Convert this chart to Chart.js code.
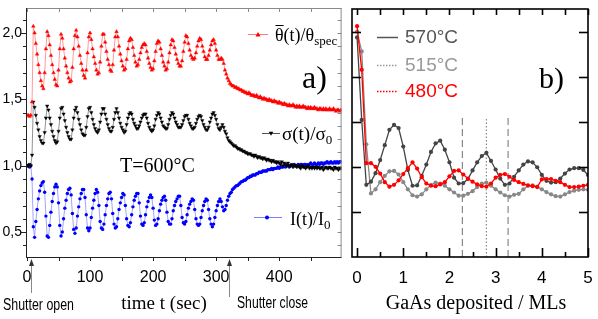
<!DOCTYPE html>
<html>
<head>
<meta charset="utf-8">
<script src="https://cdn.jsdelivr.net/npm/chart.js@4"></script>
<style>
  html, body { margin: 0; padding: 0; background: #fff; }
  #wrap { position: relative; width: 598px; height: 319px; }
  #chartA { position: absolute; left: 0; top: 0; }
  #chartB { position: absolute; left: 346px; top: 0; }
</style>
</head>
<body>
<div id="wrap">
  <canvas id="chartA" width="346" height="319"></canvas>
  <canvas id="chartB" width="252" height="319"></canvas>
</div>
<script>
// ---- panel a : time series, sampled every 2 s from t = 0 ----
const T_START = 0, T_STEP = 2;
const thetaRatio = [
  1.38,1.38,1.37,1.38,1.48,2.05,2.00,1.92,1.84,1.76,
  1.70,1.64,1.60,1.58,1.70,1.88,2.01,1.98,1.91,1.83,
  1.76,1.70,1.65,1.61,1.60,1.72,1.88,1.99,1.96,1.88,
  1.81,1.75,1.70,1.66,1.63,1.64,1.74,1.88,1.98,2.02,
  1.97,1.90,1.83,1.77,1.72,1.68,1.66,1.72,1.85,1.97,
  2.00,1.95,1.88,1.82,1.77,1.72,1.69,1.70,1.78,1.90,
  1.99,1.99,1.93,1.86,1.80,1.76,1.72,1.71,1.76,1.87,
  1.97,2.01,1.97,1.90,1.84,1.79,1.75,1.72,1.73,1.80,
  1.88,1.94,1.96,1.95,1.89,1.83,1.78,1.75,1.76,1.80,
  1.85,1.89,1.91,1.92,1.91,1.86,1.81,1.77,1.74,1.72,
  1.73,1.79,1.86,1.92,1.94,1.93,1.88,1.83,1.78,1.75,
  1.72,1.73,1.78,1.85,1.91,1.95,1.94,1.89,1.84,1.80,
  1.77,1.75,1.75,1.79,1.86,1.93,1.98,1.97,1.92,1.87,
  1.83,1.81,1.80,1.81,1.85,1.90,1.94,1.96,1.95,1.90,
  1.86,1.82,1.80,1.80,1.83,1.87,1.91,1.94,1.95,1.92,
  1.87,1.83,1.80,1.80,1.81,1.80,1.77,1.72,1.69,1.66,
  1.64,1.62,1.61,1.60,1.60,1.59,1.59,1.58,1.58,1.57,
  1.57,1.56,1.56,1.55,1.55,1.54,1.55,1.54,1.53,1.53,
  1.53,1.52,1.53,1.52,1.51,1.52,1.51,1.50,1.51,1.50,
  1.50,1.49,1.50,1.49,1.49,1.48,1.49,1.48,1.48,1.47,
  1.48,1.47,1.47,1.46,1.47,1.46,1.46,1.45,1.46,1.45,
  1.45,1.46,1.45,1.44,1.45,1.44,1.45,1.44,1.44,1.45,
  1.44,1.44,1.43,1.44,1.43,1.44,1.43,1.43,1.44,1.43,
  1.43,1.42,1.43,1.43,1.42,1.43,1.42,1.43,1.42,1.42,
  1.43,1.42,1.42,1.43,1.42,1.41,1.42,1.42,1.41,1.42
];
const sigmaRatio = [
  1.00,1.00,1.01,1.00,1.08,1.48,1.44,1.38,1.32,1.27,
  1.22,1.19,1.17,1.17,1.25,1.36,1.45,1.42,1.36,1.31,
  1.26,1.22,1.19,1.17,1.18,1.26,1.36,1.43,1.44,1.39,
  1.34,1.29,1.25,1.22,1.20,1.20,1.27,1.36,1.42,1.44,
  1.40,1.35,1.31,1.27,1.24,1.23,1.23,1.29,1.37,1.43,
  1.44,1.40,1.35,1.31,1.28,1.26,1.25,1.27,1.33,1.39,
  1.43,1.43,1.39,1.35,1.31,1.28,1.26,1.26,1.29,1.35,
  1.40,1.43,1.40,1.36,1.32,1.29,1.27,1.25,1.26,1.31,
  1.36,1.39,1.40,1.39,1.35,1.32,1.30,1.28,1.28,1.30,
  1.33,1.36,1.38,1.39,1.39,1.36,1.32,1.29,1.27,1.26,
  1.27,1.30,1.35,1.38,1.40,1.39,1.36,1.33,1.30,1.29,
  1.28,1.28,1.31,1.35,1.38,1.40,1.39,1.36,1.33,1.31,
  1.29,1.29,1.29,1.31,1.34,1.37,1.38,1.38,1.35,1.32,
  1.30,1.28,1.28,1.29,1.32,1.35,1.37,1.38,1.37,1.34,
  1.31,1.29,1.27,1.27,1.29,1.33,1.36,1.39,1.40,1.38,
  1.35,1.31,1.28,1.27,1.29,1.31,1.29,1.26,1.24,1.21,
  1.19,1.18,1.17,1.16,1.15,1.15,1.14,1.13,1.13,1.12,
  1.12,1.11,1.11,1.10,1.10,1.09,1.09,1.09,1.08,1.08,
  1.07,1.08,1.07,1.06,1.07,1.06,1.06,1.05,1.06,1.05,
  1.04,1.05,1.04,1.04,1.03,1.04,1.03,1.03,1.02,1.03,
  1.02,1.01,1.03,1.00,1.02,1.01,1.00,1.02,1.00,1.00,
  1.01,0.99,1.00,1.00,0.99,1.00,0.99,0.98,1.00,0.99,
  0.99,0.98,0.99,1.00,0.98,0.99,0.98,0.99,0.98,0.99,
  0.98,0.99,0.98,0.98,0.99,0.97,0.98,0.99,0.98,0.98,
  0.99,0.98,0.98,0.97,0.99,0.98,0.98,0.97,0.98,0.98
];
const intensityRatio = [
  1.00,1.00,0.99,1.00,0.90,0.54,0.46,0.58,0.67,0.75,
  0.81,0.85,0.87,0.88,0.80,0.62,0.47,0.46,0.55,0.65,
  0.73,0.79,0.84,0.86,0.84,0.72,0.55,0.47,0.50,0.60,
  0.68,0.74,0.79,0.82,0.83,0.78,0.64,0.52,0.49,0.53,
  0.62,0.69,0.75,0.79,0.82,0.82,0.76,0.63,0.53,0.51,
  0.53,0.61,0.68,0.74,0.79,0.82,0.80,0.70,0.58,0.53,
  0.52,0.56,0.63,0.70,0.75,0.79,0.80,0.75,0.64,0.56,
  0.53,0.54,0.60,0.67,0.72,0.76,0.79,0.78,0.70,0.60,
  0.55,0.54,0.57,0.63,0.69,0.74,0.77,0.79,0.79,0.72,
  0.62,0.56,0.55,0.57,0.63,0.69,0.73,0.76,0.78,0.76,
  0.68,0.59,0.55,0.56,0.60,0.66,0.71,0.74,0.76,0.77,
  0.74,0.65,0.58,0.56,0.56,0.60,0.66,0.70,0.73,0.75,
  0.77,0.77,0.70,0.61,0.57,0.56,0.58,0.63,0.68,0.71,
  0.73,0.75,0.74,0.67,0.60,0.56,0.55,0.56,0.61,0.66,
  0.70,0.73,0.75,0.74,0.67,0.60,0.56,0.54,0.56,0.61,
  0.66,0.70,0.73,0.75,0.73,0.69,0.66,0.67,0.70,0.74,
  0.77,0.79,0.80,0.82,0.83,0.84,0.85,0.85,0.86,0.87,
  0.88,0.88,0.89,0.89,0.90,0.91,0.91,0.92,0.92,0.93,
  0.93,0.93,0.94,0.94,0.95,0.95,0.95,0.96,0.96,0.96,
  0.96,0.97,0.97,0.97,0.98,0.97,0.98,0.98,0.98,0.99,
  0.98,0.99,0.99,0.99,1.00,0.99,1.00,1.00,0.99,1.00,
  1.00,1.00,1.01,1.00,1.00,1.01,1.00,1.01,1.01,1.00,
  1.01,1.01,1.00,1.01,1.01,1.02,1.01,1.01,1.02,1.01,
  1.01,1.02,1.01,1.02,1.02,1.01,1.02,1.02,1.03,1.02,
  1.02,1.03,1.02,1.02,1.03,1.02,1.03,1.02,1.03,1.03
];
const timeTicks = [0, 100, 200, 300, 400];
const ratioTicks = [0.5, 1.0, 1.5, 2.0];
const shutterTimes = [6, 321];
const shutterLabels = ['Shutter open', 'Shutter close'];

// ---- panel b : deposited MLs, sampled every 0.1 ML from 0 ----
const ML_START = 0, ML_STEP = 0.1;
const temps = ['570°C', '515°C', '480°C'];
const series570 = [
  4.87,3.04,1.60,1.67,1.86,2.15,2.48,2.82,2.93,2.86,
  2.45,1.93,1.58,1.59,1.80,2.05,2.33,2.52,2.58,2.38,
  2.10,1.76,1.63,1.64,1.73,1.92,2.10,2.24,2.31,2.13,
  1.94,1.74,1.60,1.63,1.78,1.92,2.05,2.12,2.10,1.99,
  1.82,1.69,1.65,1.66,1.74,1.85,1.94,1.97,1.97,1.93,
  1.82
];
const series515 = [
  5.00,4.56,2.50,1.41,1.50,1.66,1.80,1.90,1.91,1.83,
  1.66,1.50,1.37,1.34,1.39,1.50,1.60,1.65,1.63,1.58,
  1.50,1.43,1.36,1.36,1.40,1.46,1.55,1.63,1.65,1.58,
  1.50,1.43,1.37,1.34,1.38,1.40,1.50,1.58,1.59,1.56,
  1.50,1.44,1.39,1.35,1.34,1.39,1.44,1.47,1.49,1.50,
  1.49
];
const series480 = [
  5.12,4.15,2.08,2.08,2.00,1.85,1.66,1.56,1.60,1.70,
  1.84,1.97,2.10,1.96,1.77,1.63,1.58,1.57,1.61,1.66,
  1.79,1.91,1.92,1.83,1.74,1.67,1.61,1.57,1.56,1.63,
  1.76,1.82,1.84,1.78,1.71,1.66,1.62,1.59,1.57,1.55,
  1.72,1.73,1.73,1.69,1.66,1.60,1.55,1.55,1.56,1.58,
  1.60
];
const mlTicks = [0, 1, 2, 3, 4, 5];
const guideML = [2.28, 2.80, 3.27];
const guideTop = 3.1;

const SERIF = '"Liberation Serif", "Times New Roman", serif';
const SANS = '"Liberation Sans", Arial, sans-serif';
Chart.defaults.font.family = SANS;
Chart.defaults.color = '#000';

const toPoints = (vals, start, step) => vals.map((v, i) => ({ x: start + i * step, y: v }));

function seg(ctx, x1, y1, x2, y2) {
  ctx.beginPath(); ctx.moveTo(x1, y1); ctx.lineTo(x2, y2); ctx.stroke();
}
function fitText(ctx, text, x, y, font, width) {
  ctx.save();
  ctx.font = font;
  const w = ctx.measureText(text).width;
  ctx.translate(x, y);
  ctx.scale(width / w, 1);
  ctx.fillText(text, 0, 0);
  ctx.restore();
}
function subText(ctx, main, sub, x, y, size, subSize) {
  ctx.font = size + 'px ' + SERIF;
  ctx.fillText(main, x, y);
  const w = ctx.measureText(main).width;
  ctx.font = subSize + 'px ' + SERIF;
  ctx.fillText(sub, x + w, y + 4);
}
function marker(ctx, kind, x, y, r) {
  ctx.beginPath();
  if (kind === 'up') { ctx.moveTo(x, y - r); ctx.lineTo(x - r, y + r * 0.8); ctx.lineTo(x + r, y + r * 0.8); }
  else if (kind === 'down') { ctx.moveTo(x, y + r); ctx.lineTo(x - r, y - r * 0.8); ctx.lineTo(x + r, y - r * 0.8); }
  else { ctx.arc(x, y, r, 0, Math.PI * 2); }
  ctx.closePath(); ctx.fill();
}
// keep the plot area where the axes are fitted, whatever the edge labels need
function fixBox(size) {
  return s => {
    if (s.isHorizontal()) s.height = size; else s.width = size;
    s.paddingLeft = 0; s.paddingRight = 0; s.paddingTop = 0; s.paddingBottom = 0;
  };
}

const panelA = {
  id: 'panelA',
  afterDraw(chart) {
    const { ctx, chartArea: a, scales: { x, y } } = chart;
    ctx.save();
    ctx.lineWidth = 1;
    // frame
    ctx.strokeStyle = '#8a8a8a';
    seg(ctx, a.left, a.top + 0.5, a.right, a.top + 0.5);
    seg(ctx, a.right - 0.5, a.top, a.right - 0.5, a.bottom);
    ctx.strokeStyle = '#222';
    seg(ctx, a.left + 0.5, a.top, a.left + 0.5, a.bottom + 1);
    seg(ctx, a.left, a.bottom + 0.5, a.right, a.bottom + 0.5);
    // ticks
    for (let v = 0; v <= 500; v += 50) {
      const px = Math.round(x.getPixelForValue(v)) + 0.5;
      if (px < a.left || px > a.right) continue;
      ctx.strokeStyle = '#8a8a8a'; seg(ctx, px, a.top, px, a.top + 4);
      ctx.strokeStyle = '#222'; seg(ctx, px, a.bottom, px, a.bottom + 4);
    }
    for (let k = 4; k <= 21; k++) {
      const py = Math.round(y.getPixelForValue(k / 10)) + 0.5;
      const len = k % 5 === 0 ? 5 : 3;
      ctx.strokeStyle = '#222'; seg(ctx, a.left - len, py, a.left, py);
      ctx.strokeStyle = '#8a8a8a'; seg(ctx, a.right - 4, py, a.right, py);
    }
    // shutter arrows and labels
    shutterTimes.forEach((t, i) => {
      const px = Math.round(x.getPixelForValue(t)) + 0.5;
      ctx.strokeStyle = '#888';
      seg(ctx, px, a.bottom + 4, px, a.bottom + (i === 0 ? 36 : 40));
      ctx.fillStyle = '#333';
      ctx.beginPath(); ctx.moveTo(px, a.bottom + 2); ctx.lineTo(px - 2.5, a.bottom + 9); ctx.lineTo(px + 2.5, a.bottom + 9); ctx.closePath(); ctx.fill();
    });
    ctx.fillStyle = '#000';
    ctx.textBaseline = 'alphabetic';
    ctx.textAlign = 'left';
    fitText(ctx, shutterLabels[0], 3, 310, '16px ' + SANS, 71);
    fitText(ctx, shutterLabels[1], 237, 308, '16px ' + SANS, 71);
    // axis title
    ctx.textAlign = 'center';
    ctx.font = '19px ' + SERIF;
    ctx.fillText('time t (sec)', 164, 309);
    ctx.textAlign = 'left';
    // panel letter and temperature
    ctx.font = '32px ' + SERIF;
    ctx.fillText('a)', 302, 88);
    ctx.font = '20px ' + SERIF;
    ctx.fillText('T=600°C', 120, 172);
    // curve labels with samples
    ctx.lineWidth = 1;
    ctx.strokeStyle = '#ff7a7a'; seg(ctx, 248, 34.5, 268, 34.5);
    ctx.fillStyle = '#f00'; marker(ctx, 'up', 258, 34.5, 2.5);
    ctx.fillStyle = '#000';
    subText(ctx, 'θ(t)/θ', 'spec', 275, 41, 18, 13);
    ctx.font = '18px ' + SERIF;
    const thw = ctx.measureText('θ').width;
    ctx.strokeStyle = '#000';
    seg(ctx, 275.5, 25.5, 275 + thw, 25.5);
    ctx.strokeStyle = '#555'; seg(ctx, 262, 133.5, 280, 133.5);
    ctx.fillStyle = '#000'; marker(ctx, 'down', 271, 133.5, 2.3);
    subText(ctx, 'σ(t)/σ', '0', 282, 140, 19, 13);
    ctx.strokeStyle = '#8080ff'; seg(ctx, 254, 217.5, 282, 217.5);
    ctx.fillStyle = '#00f'; marker(ctx, 'dot', 267, 217.5, 2);
    ctx.fillStyle = '#000';
    subText(ctx, 'I(t)/I', '0', 290, 225, 18, 13);
    ctx.restore();
  }
};

const panelB = {
  id: 'panelB',
  afterDraw(chart) {
    const { ctx, chartArea: a, scales: { x, y } } = chart;
    ctx.save();
    ctx.strokeStyle = '#000';
    ctx.lineWidth = 1.6;
    ctx.strokeRect(a.left, a.top, a.right - a.left, a.bottom - a.top);
    for (let v = 0; v <= 5; v += 0.5) {
      const px = Math.round(x.getPixelForValue(v)) + 0.5;
      const major = Number.isInteger(v);
      seg(ctx, px, a.bottom, px, a.bottom - (major ? 9 : 5));
      seg(ctx, px, a.top, px, a.top + 6);
    }
    for (let k = 1; k <= 5; k++) {
      const py = Math.round(y.getPixelForValue(k)) + 0.5;
      seg(ctx, a.left, py, a.left + 9, py);
      seg(ctx, a.right - 9, py, a.right, py);
    }
    // legend
    const legendColors = ['#555', '#999', '#f00'];
    const legendDash = [[], [1.5, 1.5], [1.5, 1.5]];
    const rows = [37, 65, 91];
    ctx.font = '19px ' + SANS;
    ctx.textBaseline = 'middle';
    ctx.textAlign = 'left';
    temps.forEach((t, i) => {
      ctx.strokeStyle = legendColors[i];
      ctx.lineWidth = 1.5;
      ctx.setLineDash(legendDash[i]);
      seg(ctx, 31, rows[i] + 0.5, 52, rows[i] + 0.5);
      ctx.setLineDash([]);
      ctx.fillStyle = legendColors[i];
      ctx.fillText(t, 59, rows[i] + 1);
    });
    ctx.textBaseline = 'alphabetic';
    ctx.fillStyle = '#000';
    ctx.font = '30px ' + SERIF;
    ctx.fillText('b)', 193, 88);
    ctx.font = '20px ' + SERIF;
    ctx.textAlign = 'center';
    ctx.fillText('GaAs deposited / MLs', 130, 309);
    ctx.restore();
  }
};

const common = {
  responsive: false,
  animation: false,
  devicePixelRatio: 1,
  events: [],
  plugins: { legend: { display: false }, tooltip: { enabled: false } }
};

new Chart(document.getElementById('chartA'), {
  type: 'line',
  data: {
    datasets: [
      { data: toPoints(thetaRatio, T_START, T_STEP), borderColor: '#ff8080', borderWidth: 0.8,
        pointStyle: 'triangle', pointRadius: 2.1, pointBackgroundColor: '#f00', pointBorderColor: '#f00', pointBorderWidth: 0.4 },
      { data: toPoints(sigmaRatio, T_START, T_STEP), borderColor: '#666', borderWidth: 0.7,
        pointStyle: 'triangle', pointRotation: 180, pointRadius: 2.0, pointBackgroundColor: '#000', pointBorderColor: '#000', pointBorderWidth: 0.4 },
      { data: toPoints(intensityRatio, T_START, T_STEP), borderColor: '#8c8cff', borderWidth: 0.8,
        pointStyle: 'circle', pointRadius: 1.7, pointBackgroundColor: '#00f', pointBorderColor: '#00f', pointBorderWidth: 0 }
    ]
  },
  options: {
    ...common,
    layout: { padding: { top: 8, right: 3, left: 0, bottom: 0 } },
    elements: { line: { tension: 0 } },
    scales: {
      x: {
        type: 'linear', min: -1.6, max: 499,
        afterBuildTicks: s => { s.ticks = timeTicks.map(v => ({ value: v })); },
        afterFit: fixBox(62),
        ticks: { font: { size: 16 }, padding: 11, maxRotation: 0 },
        grid: { display: false, drawTicks: false },
        border: { display: false }
      },
      y: {
        min: 0.312, max: 2.188,
        afterBuildTicks: s => { s.ticks = ratioTicks.map(v => ({ value: v })); },
        afterFit: fixBox(26),
        ticks: { font: { size: 14 }, padding: 4, callback: v => v.toFixed(1).replace('.', ',') },
        grid: { display: false, drawTicks: false },
        border: { display: false }
      }
    }
  },
  plugins: [panelA]
});

const seriesColors = ['#f00', '#444', '#888'];
new Chart(document.getElementById('chartB'), {
  type: 'line',
  data: {
    datasets: [
      { data: toPoints(series480, ML_START, ML_STEP), borderColor: seriesColors[0], pointBackgroundColor: seriesColors[0] },
      { data: toPoints(series570, ML_START, ML_STEP), borderColor: seriesColors[1], pointBackgroundColor: seriesColors[1] },
      { data: toPoints(series515, ML_START, ML_STEP), borderColor: seriesColors[2], pointBackgroundColor: seriesColors[2] },
      ...guideML.map((m, i) => ({
        data: [{ x: m, y: 0 }, { x: m, y: guideTop }],
        borderColor: '#888', borderWidth: 1.2, pointRadius: 0,
        borderDash: i === 1 ? [1.5, 2] : [7, 4]
      }))
    ]
  },
  options: {
    ...common,
    layout: { padding: { top: 9, right: 10, left: 0, bottom: 0 } },
    elements: {
      line: { tension: 0, borderWidth: 1.3 },
      point: { radius: 2.1, borderWidth: 0 }
    },
    scales: {
      x: {
        type: 'linear', min: -0.11, max: 5,
        afterBuildTicks: s => { s.ticks = mlTicks.map(v => ({ value: v })); },
        afterFit: fixBox(62),
        ticks: { font: { size: 17 }, padding: 11, maxRotation: 0 },
        grid: { display: false, drawTicks: false },
        border: { display: false }
      },
      y: {
        min: 0, max: 5.5,
        afterFit: fixBox(6),
        ticks: { display: false },
        grid: { display: false, drawTicks: false },
        border: { display: false }
      }
    }
  },
  plugins: [panelB]
});
</script>
</body>
</html>
